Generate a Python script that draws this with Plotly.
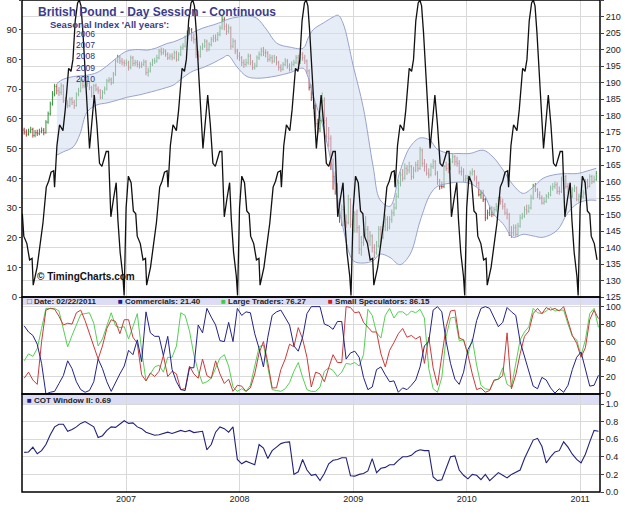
import pandas as pd
import plotly.graph_objects as go

# ---------------- price data (weekly, British Pound futures, cents) ----------------
price_start = "2006-02-07"
closes = [
    175.0, 174.3, 175.2, 175.8, 174.0, 174.8, 174.5, 175.2, 175.5, 174.8, 178.0, 180.5,
    183.5, 186.5, 188.8, 187.5, 187.0, 189.0, 184.5, 183.5, 183.0, 184.8, 184.0, 183.0,
    186.5, 187.5, 190.5, 189.0, 189.5, 189.8, 188.5, 186.0, 189.0, 188.0, 187.5, 185.5,
    187.0, 188.0, 190.5, 190.8, 190.0, 192.5, 196.5, 197.5, 196.5, 196.0, 195.8,
    196.0, 194.5, 197.5, 195.8, 196.0, 195.5, 195.0, 195.5, 196.2, 193.0, 193.5, 195.5,
    196.5, 196.5, 197.5, 199.5, 199.0, 199.5, 198.5, 197.5, 198.0, 197.5, 199.0, 197.0,
    198.5, 200.5, 201.0, 203.5, 205.0, 206.0, 203.5, 203.0, 198.5, 198.0, 200.5, 201.0,
    202.5, 200.0, 201.5, 203.0, 203.5, 203.0, 204.5, 206.5, 209.0, 207.0, 205.5, 206.5,
    201.0, 202.5, 199.5, 198.0,
    197.5, 196.0, 195.5, 196.0, 198.0, 196.0, 194.5, 195.0, 197.5, 198.5, 199.5, 199.0,
    199.0, 197.0, 197.5, 196.5, 197.5, 196.0, 194.5, 194.0, 195.5, 196.5, 195.0, 194.0,
    195.5, 196.0, 197.5, 196.0, 198.5, 197.5, 196.5, 193.5, 188.5, 185.5, 183.0, 177.5,
    176.0, 178.5, 184.5, 178.5, 173.5, 173.0, 165.0, 161.5, 158.5, 153.5, 149.0, 151.5,
    148.0, 147.5, 154.5, 147.0, 145.0,
    150.0, 146.0, 139.5, 141.5, 144.0, 145.5, 142.0, 143.5, 140.0, 138.5, 140.5, 145.5,
    143.0, 146.5, 148.5, 146.0, 148.5, 150.5, 152.0, 155.5, 159.5, 162.0, 161.0, 164.0,
    163.5, 164.5, 161.5, 163.5, 165.0, 164.0, 169.5, 165.5, 164.5, 162.5, 162.0, 164.5,
    166.0, 162.5, 160.0, 158.5, 158.5, 164.5, 164.0, 164.0, 166.0, 167.5, 166.0, 165.5,
    163.0, 163.0, 160.5, 161.0,
    160.5, 162.5, 163.0, 161.0, 159.5, 156.0, 156.5, 154.5, 149.0, 150.5, 152.0, 150.0,
    151.5, 152.5, 154.5, 154.0, 152.5, 150.5, 150.0, 144.5, 144.5, 146.0, 144.0, 146.5,
    149.0, 149.5, 151.5, 151.0, 152.0, 155.0, 158.5, 157.5, 156.0, 155.0, 153.5, 154.0,
    155.5, 156.0, 158.0, 158.5, 159.0, 157.0, 157.0, 160.5, 161.5, 158.5, 157.5, 155.5,
    157.5, 158.0, 154.5, 155.5,
    155.5, 156.5, 160.0, 158.5, 161.5, 160.0, 160.5, 162.5,
]
opens = [
    175.6, 175.0, 174.3, 175.2, 175.8, 174.0, 174.8, 174.5, 175.2, 175.5, 174.8, 178.0,
    180.5, 183.5, 186.5, 188.8, 187.5, 187.0, 189.0, 184.5, 183.5, 183.0, 184.8, 184.0,
    183.0, 186.5, 187.5, 190.5, 189.0, 189.5, 189.8, 188.5, 186.0, 189.0, 188.0, 187.5,
    185.5, 187.0, 188.0, 190.5, 190.8, 190.0, 192.5, 196.5, 197.5, 196.5, 196.0,
    195.8, 196.0, 194.5, 197.5, 195.8, 196.0, 195.5, 195.0, 195.5, 196.2, 193.0, 193.5,
    195.5, 196.5, 196.5, 197.5, 199.5, 199.0, 199.5, 198.5, 197.5, 198.0, 197.5, 199.0,
    197.0, 198.5, 200.5, 201.0, 203.5, 205.0, 206.0, 203.5, 203.0, 198.5, 198.0, 200.5,
    201.0, 202.5, 200.0, 201.5, 203.0, 203.5, 203.0, 204.5, 206.5, 209.0, 207.0, 205.5,
    206.5, 201.0, 202.5, 199.5,
    198.0, 197.5, 196.0, 195.5, 196.0, 198.0, 196.0, 194.5, 195.0, 197.5, 198.5, 199.5,
    199.0, 199.0, 197.0, 197.5, 196.5, 197.5, 196.0, 194.5, 194.0, 195.5, 196.5, 195.0,
    194.0, 195.5, 196.0, 197.5, 196.0, 198.5, 197.5, 196.5, 193.5, 188.5, 185.5, 183.0,
    177.5, 176.0, 178.5, 184.5, 178.5, 173.5, 173.0, 165.0, 161.5, 158.5, 153.5, 149.0,
    151.5, 148.0, 147.5, 154.5, 147.0,
    145.0, 150.0, 146.0, 139.5, 141.5, 144.0, 145.5, 142.0, 143.5, 140.0, 138.5, 140.5,
    145.5, 143.0, 146.5, 148.5, 146.0, 148.5, 150.5, 152.0, 155.5, 159.5, 162.0, 161.0,
    164.0, 163.5, 164.5, 161.5, 163.5, 165.0, 164.0, 169.5, 165.5, 164.5, 162.5, 162.0,
    164.5, 166.0, 162.5, 160.0, 158.5, 158.5, 164.5, 164.0, 164.0, 166.0, 167.5, 166.0,
    165.5, 163.0, 163.0, 160.5,
    161.0, 160.5, 162.5, 163.0, 161.0, 159.5, 156.0, 156.5, 154.5, 149.0, 150.5, 152.0,
    150.0, 151.5, 152.5, 154.5, 154.0, 152.5, 150.5, 150.0, 144.5, 144.5, 146.0, 144.0,
    146.5, 149.0, 149.5, 151.5, 151.0, 152.0, 155.0, 158.5, 157.5, 156.0, 155.0, 153.5,
    154.0, 155.5, 156.0, 158.0, 158.5, 159.0, 157.0, 157.0, 160.5, 161.5, 158.5, 157.5,
    155.5, 157.5, 158.0, 154.5,
    155.5, 155.5, 156.5, 160.0, 158.5, 161.5, 160.0, 160.5,
]
highs = [
    176.3, 175.8, 176.0, 176.6, 176.3, 175.6, 175.7, 176.0, 176.4, 176.2, 178.6, 181.2,
    184.2, 187.4, 189.6, 189.5, 188.6, 189.8, 189.4, 185.6, 184.6, 185.5, 185.6, 184.7,
    187.0, 188.4, 191.2, 191.0, 190.3, 190.6, 190.2, 189.0, 189.6, 189.7, 188.8, 188.0,
    187.7, 188.8, 191.1, 191.6, 191.5, 193.2, 197.1, 198.4, 198.2, 197.4, 196.9,
    197.0, 196.6, 198.2, 198.0, 196.9, 196.8, 196.4, 196.3, 197.0, 196.8, 194.5, 196.2,
    197.2, 197.5, 198.4, 200.2, 200.6, 200.4, 200.0, 199.2, 198.8, 198.9, 199.7, 199.6,
    199.2, 201.2, 201.9, 204.2, 205.8, 206.8, 206.5, 204.8, 203.6, 199.6, 201.2, 202.0,
    203.2, 203.0, 202.2, 203.8, 204.5, 204.6, 205.3, 207.3, 210.2, 209.8, 207.9, 207.6,
    207.0, 203.4, 203.0, 200.2,
    199.2, 198.0, 197.0, 197.2, 198.8, 198.6, 196.8, 196.0, 198.2, 199.4, 200.6, 200.8,
    200.0, 199.5, 198.6, 198.3, 198.4, 198.0, 196.6, 195.5, 196.2, 197.4, 197.1, 195.8,
    196.4, 196.9, 198.3, 198.4, 199.4, 199.2, 198.4, 197.0, 194.0, 189.4, 186.6, 183.8,
    179.0, 180.5, 187.0, 185.5, 179.5, 176.5, 174.0, 167.0, 163.0, 159.5, 155.0, 153.0,
    152.5, 150.0, 156.0, 155.0, 148.5,
    151.0, 151.5, 146.8, 143.5, 146.0, 149.5, 146.5, 145.0, 144.0, 141.0, 142.0, 146.5,
    146.5, 148.0, 150.0, 149.5, 149.5, 151.5, 153.5, 156.5, 160.5, 163.0, 163.8, 165.5,
    165.0, 166.0, 165.0, 164.5, 166.0, 166.5, 170.5, 170.0, 166.8, 165.5, 164.0, 165.5,
    166.8, 166.5, 163.2, 160.8, 160.0, 165.0, 166.0, 165.5, 167.0, 168.5, 168.0, 167.5,
    166.5, 164.5, 164.0, 162.0,
    162.0, 163.3, 164.0, 163.5, 161.8, 160.0, 157.5, 157.5, 155.0, 151.5, 152.8, 152.5,
    152.3, 153.5, 155.3, 155.5, 154.8, 153.5, 151.8, 150.5, 146.5, 147.0, 147.0, 147.5,
    150.0, 150.5, 152.5, 153.0, 153.0, 156.0, 159.3, 159.5, 158.0, 157.0, 155.8, 155.2,
    156.2, 156.8, 158.8, 159.5, 160.0, 159.8, 158.5, 161.5, 162.8, 162.0, 159.5, 158.2,
    158.3, 159.0, 158.5, 156.3,
    156.8, 157.5, 160.8, 160.8, 162.2, 162.0, 161.8, 163.2,
]
lows = [
    174.2, 173.6, 173.9, 174.6, 173.3, 173.4, 173.8, 174.0, 174.6, 174.0, 174.5, 177.5,
    180.0, 183.0, 185.8, 186.4, 185.9, 186.2, 183.8, 182.6, 182.2, 182.5, 183.2, 182.0,
    182.7, 185.8, 187.0, 188.2, 188.3, 188.7, 187.7, 185.4, 185.6, 187.3, 186.6, 184.9,
    185.0, 186.4, 187.6, 189.8, 189.2, 189.6, 192.0, 195.9, 195.6, 195.2, 194.9,
    195.0, 193.6, 194.0, 195.0, 195.0, 194.6, 194.2, 194.4, 195.0, 192.2, 191.8, 193.0,
    195.0, 195.6, 196.0, 197.0, 198.2, 198.4, 197.8, 196.8, 196.9, 196.7, 197.0, 196.3,
    196.5, 198.0, 199.9, 200.6, 202.9, 204.3, 202.5, 201.8, 197.4, 196.8, 197.5, 199.8,
    200.5, 199.3, 199.5, 200.9, 202.2, 202.3, 202.6, 204.0, 206.0, 205.8, 204.4, 204.8,
    200.0, 200.4, 198.6, 197.0,
    196.5, 195.0, 194.4, 194.8, 195.4, 195.2, 193.8, 193.9, 194.6, 196.8, 197.9, 198.0,
    197.6, 196.2, 196.3, 195.7, 196.0, 195.2, 193.6, 193.2, 193.6, 195.0, 194.2, 193.3,
    193.5, 194.9, 195.6, 195.3, 195.6, 196.6, 195.6, 192.6, 187.6, 184.4, 182.0, 176.4,
    174.5, 175.0, 178.0, 177.5, 172.0, 170.5, 163.5, 157.5, 156.0, 152.0, 147.5, 146.5,
    146.5, 146.0, 147.0, 146.0, 144.0,
    144.5, 144.5, 138.0, 137.5, 140.5, 143.0, 141.0, 140.5, 138.5, 136.8, 137.8, 140.0,
    141.5, 142.5, 145.0, 145.0, 145.5, 147.5, 149.5, 151.5, 155.0, 158.5, 160.0, 160.5,
    162.0, 162.5, 160.5, 160.8, 162.8, 163.0, 163.5, 164.5, 163.0, 161.8, 161.0, 161.5,
    163.8, 161.8, 159.0, 157.5, 157.8, 158.0, 163.2, 162.5, 163.5, 165.5, 164.8, 164.5,
    162.2, 161.8, 159.8, 159.8,
    159.5, 159.8, 161.8, 160.2, 158.5, 155.5, 154.8, 153.8, 148.0, 148.5, 149.5, 149.2,
    149.5, 150.8, 152.0, 153.0, 151.5, 149.8, 148.5, 143.5, 143.0, 143.5, 143.3, 143.5,
    146.0, 148.5, 149.0, 150.0, 150.5, 151.5, 154.5, 156.8, 155.0, 154.5, 153.0, 153.0,
    153.5, 154.8, 155.5, 157.2, 157.8, 156.2, 156.0, 156.5, 160.0, 157.8, 156.5, 154.8,
    155.0, 156.8, 154.0, 153.8,
    154.5, 154.8, 156.0, 157.8, 158.2, 159.2, 159.5, 160.2,
]
price_dates = pd.date_range(price_start, periods=len(closes), freq="7D")

# ---------------- bands around price ----------------
band_dates = [
    "2006-05-23", "2006-06-13", "2006-07-15", "2006-08-06", "2006-08-28", "2006-09-29",
    "2006-10-31", "2006-12-02", "2007-01-03", "2007-02-10", "2007-03-08", "2007-04-09",
    "2007-05-12", "2007-06-02", "2007-07-03", "2007-08-05", "2007-09-05", "2007-10-10",
    "2007-11-09", "2007-11-25", "2007-12-24", "2008-01-25", "2008-02-25", "2008-03-29",
    "2008-04-30", "2008-06-12", "2008-07-24", "2008-08-09", "2008-08-25", "2008-09-26",
    "2008-10-28", "2008-11-13", "2008-11-29", "2009-01-01", "2009-02-02", "2009-03-06",
    "2009-03-28", "2009-04-29", "2009-05-31", "2009-07-03", "2009-08-04", "2009-09-05",
    "2009-09-28", "2009-11-08", "2009-12-01", "2010-01-12", "2010-02-23", "2010-03-27",
    "2010-04-28", "2010-05-30", "2010-07-02", "2010-08-03", "2010-09-04", "2010-10-19",
    "2010-11-21", "2010-12-23", "2011-01-24", "2011-02-22",
]
band_upper = [
    189.7, 191.0, 191.8, 192.0, 192.2, 193.0, 195.0, 197.5, 199.5, 200.0, 199.8, 200.5,
    201.8, 202.3, 203.5, 205.2, 206.5, 207.5, 208.5, 209.2, 209.8, 210.2, 209.5, 205.9,
    201.9, 200.7, 200.4, 203.5, 206.0, 208.0, 209.8, 210.4, 208.0, 195.0, 182.5, 164.5,
    154.5, 152.5, 163.0, 170.5, 173.2, 172.5, 169.8, 168.5, 168.5, 168.5, 169.5, 167.4,
    163.5, 159.0, 156.4, 158.3, 161.0, 162.2, 162.4, 162.4, 163.2, 164.0,
]
band_lower = [
    168.0, 169.0, 170.5, 174.5, 181.0, 183.2, 183.8, 184.6, 185.5, 186.2, 186.8, 187.6,
    188.5, 189.2, 191.5, 193.5, 194.5, 196.0, 197.5, 198.2, 194.7, 191.8, 191.3, 191.5,
    192.0, 193.0, 194.3, 191.5, 186.0, 176.5, 163.0, 154.0, 146.0, 136.0, 135.3, 136.0,
    138.0, 137.0, 134.8, 138.0, 148.0, 156.0, 158.5, 159.5, 159.8, 159.4, 156.4, 150.3,
    147.2, 143.1, 144.0, 143.5, 143.1, 145.2, 150.3, 153.3, 154.3, 154.3,
]

# ---------------- seasonal index (same pattern every year) ----------------
season_years = [2006, 2007, 2008, 2009, 2010, 2011]
season_frac = [
    0.000, 0.020, 0.044, 0.064, 0.085, 0.098, 0.125, 0.149, 0.171, 0.181,
    0.215, 0.237, 0.267, 0.296, 0.317, 0.338, 0.361, 0.369, 0.390, 0.413,
    0.443, 0.463, 0.493, 0.514, 0.531, 0.551, 0.572, 0.587, 0.602, 0.619,
    0.639, 0.654, 0.677, 0.698, 0.719, 0.742, 0.765, 0.786, 0.807, 0.824,
    0.844, 0.865, 0.888, 0.912, 0.927, 0.947, 0.971, 0.982,
]
season_vals = [
    30, 40.7, 38.5, 29, 28, 20.5, 18, 12.5, 13, 4,
    10, 17, 25, 37, 39, 42, 42.5, 37, 51, 58,
    56, 63, 77, 76, 80, 93, 99, 100, 98, 89,
    75, 63, 50, 59, 68, 58, 45, 44, 46.5, 49,
    49, 27, 33, 38.5, 26, 15, 7, 0.5,
]
season_labels = ["2006", "2007", "2008", "2009", "2010"]

# ---------------- COT data (every two weeks) ----------------
cot_start = "2006-02-07"
commercials = [
    78, 71, 67, 57, 35, 0, 2, 3, 12, 21, 38, 29, 14, 5, 2, 4, 14, 40, 29, 14,
    3, 14, 23, 32, 50, 45, 62, 37, 94, 70, 66, 66, 44, 66, 28, 14, 5, 4, 30, 30,
    79, 70, 98, 88, 79, 61, 60, 82, 60, 98, 90, 94, 93, 69, 52, 31, 65, 90, 94, 96,
    88, 79, 55, 49, 65, 92,
    100, 100, 100, 80, 78, 74, 83, 83, 40, 47, 49, 42, 19, 5, 8, 28, 31, 22, 14, 15,
    2, 7, 5, 10, 16, 31, 55, 60, 96, 100, 94, 60, 35, 17, 11, 25, 51, 60, 84, 98,
    100, 98, 88, 77, 82, 99, 94, 90, 60, 42, 24, 9, 6, 19, 16, 7, 1, 6, 2, 10,
    28, 42, 48, 27, 9, 10, 21.4,
]
large_traders = [
    38, 46, 43, 52, 75, 98, 98, 98, 95, 75, 54, 67, 78, 91, 92, 93, 81, 55, 63, 79,
    93, 78, 76, 77, 63, 77, 92, 50, 15, 23, 31, 33, 25, 42, 42, 55, 93, 90, 72, 45,
    26, 12, 14, 18, 30, 41, 45, 32, 8, 3, 6, 3, 10, 31, 54, 56, 30, 5, 4, 3,
    6, 13, 26, 36, 19, 5,
    3, 3, 8, 26, 30, 27, 20, 25, 35, 34, 36, 32, 45, 97, 90, 70, 64, 90, 98, 87,
    94, 94, 90, 95, 93, 97, 87, 29, 6, 2, 19, 66, 87, 88, 61, 62, 45, 63, 33, 10,
    6, 5, 15, 17, 30, 11, 8, 34, 62, 71, 77, 98, 93, 92, 95, 99, 95, 96, 96, 80,
    66, 62, 44, 62, 92, 98, 76.27,
]
small_specs = [
    18, 25, 16, 11, 60, 96, 98, 97, 89, 79, 81, 80, 93, 96, 84, 69, 54, 40, 55, 75,
    85, 83, 69, 85, 85, 65, 58, 22, 15, 24, 20, 26, 44, 20, 26, 23, 5, 6, 32, 23,
    18, 40, 21, 18, 38, 23, 12, 17, 3, 10, 9, 3, 7, 23, 47, 60, 36, 7, 7, 28,
    40, 57, 54, 76, 63, 42,
    8, 25, 23, 14, 30, 45, 36, 36, 100, 99, 93, 94, 82, 76, 71, 71, 46, 31, 50, 59,
    69, 75, 65, 67, 63, 66, 35, 65, 30, 10, 42, 77, 95, 96, 64, 62, 45, 23, 5, 7,
    2, 4, 16, 17, 21, 70, 6, 22, 46, 66, 72, 92, 98, 92, 99, 96, 98, 95, 100, 84,
    67, 58, 42, 53, 85, 96, 86.15,
]
cot_window = [
    0.45, 0.455, 0.51, 0.435, 0.47, 0.54, 0.65, 0.74, 0.77, 0.77,
    0.69, 0.71, 0.74, 0.78, 0.80, 0.77, 0.74, 0.62, 0.64, 0.70,
    0.74, 0.735, 0.775, 0.81, 0.78, 0.785, 0.74, 0.72, 0.68, 0.665,
    0.645, 0.65, 0.665, 0.68, 0.665, 0.68, 0.70, 0.685, 0.70, 0.675,
    0.68, 0.69, 0.48, 0.54, 0.68, 0.74, 0.72, 0.68, 0.74, 0.37,
    0.32, 0.35, 0.33, 0.31, 0.54, 0.50, 0.38, 0.47, 0.51, 0.55,
    0.565, 0.57, 0.20, 0.23, 0.37, 0.25, 0.19, 0.20,
    0.13, 0.21, 0.32, 0.36, 0.37, 0.39, 0.39, 0.185, 0.18, 0.20,
    0.21, 0.24, 0.38, 0.22, 0.27, 0.28, 0.31, 0.31, 0.36, 0.40,
    0.40, 0.417, 0.46, 0.48, 0.47, 0.47, 0.17, 0.13, 0.14, 0.28,
    0.40, 0.41, 0.25, 0.19, 0.15, 0.20, 0.19, 0.14, 0.20, 0.13,
    0.17, 0.22, 0.19, 0.16, 0.20, 0.225, 0.25, 0.38, 0.48, 0.59,
    0.61, 0.52, 0.33, 0.40, 0.455, 0.47, 0.57, 0.51, 0.43, 0.37,
    0.33, 0.43, 0.57, 0.70, 0.69,
]
cot_dates = pd.date_range(cot_start, periods=len(commercials), freq="14D")

legend_date = "02/22/2011"

# ---------------- figure ----------------
X_RANGE = ["2006-01-31", "2011-03-06"]
MAIN = [0.3963, 1.0]
MID = [0.1992, 0.3963]
BOT = [0.0, 0.1992]
FONT = "Liberation Sans, Arial, sans-serif"
GRID = "#d9d9d9"

# seasonal line: same yearly pattern repeated
s_x, s_y = [], []
lo_d, hi_d = pd.Timestamp("2006-02-01"), pd.Timestamp("2011-02-25")
for yr in season_years:
    base = pd.Timestamp(year=yr, month=1, day=1)
    for f, v in zip(season_frac, season_vals):
        d = base + pd.Timedelta(days=f * 365.25)
        if lo_d <= d <= hi_d:
            s_x.append(d)
            s_y.append(v)

fig = go.Figure()

fig.add_trace(go.Scatter(x=band_dates, y=band_lower, mode="lines", line=dict(color="#98a3cc", width=1, shape="spline"),
                         xaxis="x", yaxis="y", hoverinfo="skip", showlegend=False))
fig.add_trace(go.Scatter(x=band_dates, y=band_upper, mode="lines", line=dict(color="#98a3cc", width=1, shape="spline"),
                         fill="tonexty", fillcolor="rgba(212,223,239,0.55)",
                         xaxis="x", yaxis="y", hoverinfo="skip", showlegend=False))
fig.add_trace(go.Ohlc(x=price_dates, open=opens, high=highs, low=lows, close=closes,
                      increasing=dict(line=dict(color="#34923a", width=1)),
                      decreasing=dict(line=dict(color="#b23c3c", width=1)),
                      tickwidth=0.35, xaxis="x", yaxis="y", showlegend=False))
fig.add_trace(go.Scatter(x=s_x, y=s_y, mode="lines", line=dict(color="#111111", width=1.3),
                         xaxis="x", yaxis="y2", showlegend=False))

fig.add_trace(go.Scatter(x=cot_dates, y=large_traders, mode="lines", line=dict(color="#55d055", width=1),
                         xaxis="x2", yaxis="y3", showlegend=False))
fig.add_trace(go.Scatter(x=cot_dates, y=small_specs, mode="lines", line=dict(color="#cc3a3a", width=1),
                         xaxis="x2", yaxis="y3", showlegend=False))
fig.add_trace(go.Scatter(x=cot_dates, y=commercials, mode="lines", line=dict(color="#22228a", width=1),
                         xaxis="x2", yaxis="y3", showlegend=False))

fig.add_trace(go.Scatter(x=cot_dates, y=cot_window, mode="lines", line=dict(color="#22227a", width=1.1),
                         xaxis="x3", yaxis="y4", showlegend=False))

xcommon = dict(range=X_RANGE, type="date", showgrid=True, gridcolor=GRID, gridwidth=1,
               dtick="M12", tick0="2007-01-01", zeroline=False, showline=False)
tickfont = dict(family=FONT, size=9, color="#222222")

fig.update_layout(
    width=625, height=514,
    margin=dict(l=22, r=25, t=0, b=22),
    paper_bgcolor="white", plot_bgcolor="white",
    showlegend=False,
    xaxis=dict(**xcommon, anchor="y", domain=[0, 1], showticklabels=False,
               rangeslider=dict(visible=False)),
    xaxis2=dict(**xcommon, anchor="y3", domain=[0, 1], showticklabels=False, matches="x"),
    xaxis3=dict(**xcommon, anchor="y4", domain=[0, 1], showticklabels=True, matches="x",
                tickformat="%Y", tickfont=tickfont, ticks=""),
    yaxis=dict(domain=MAIN, range=[125, 215], side="right", tickvals=list(range(125, 216, 5)),
               showgrid=True, gridcolor=GRID, zeroline=False, ticks="outside", ticklen=3,
               tickcolor="#444", tickfont=tickfont, anchor="x"),
    yaxis2=dict(domain=MAIN, range=[0, 100], side="left", overlaying="y", tickvals=list(range(0, 101, 10)),
                showgrid=False, zeroline=False, ticks="outside", ticklen=2, tickcolor="#444",
                tickfont=dict(family=FONT, size=9.5, color="#222222"), anchor="x"),
    yaxis3=dict(domain=MID, range=[0, 111], side="right", tickvals=[0, 20, 40, 60, 80, 100],
                showgrid=True, gridcolor=GRID, zeroline=False, ticks="outside", ticklen=3,
                tickcolor="#444", tickfont=tickfont, anchor="x2"),
    yaxis4=dict(domain=BOT, range=[0, 1.114], side="right", tickvals=[0, 0.2, 0.4, 0.6, 0.8, 1.0],
                tickformat=".1f", showgrid=True, gridcolor=GRID, zeroline=False, ticks="outside",
                ticklen=3, tickcolor="#444", tickfont=tickfont, anchor="x3"),
)

shapes = [
    dict(type="rect", xref="x2 domain", yref="y3", x0=0, x1=1, y0=102, y1=111,
         fillcolor="#dcddf5", line=dict(width=0), layer="below"),
    dict(type="rect", xref="x3 domain", yref="y4", x0=0, x1=1, y0=1.0, y1=1.114,
         fillcolor="#dcddf5", line=dict(width=0), layer="below"),
]
for dom in (MAIN, MID, BOT):
    shapes.append(dict(type="rect", xref="paper", yref="paper", x0=0, x1=1, y0=dom[0], y1=dom[1],
                       line=dict(color="#000000", width=1.5), fillcolor="rgba(0,0,0,0)", layer="above"))
fig.update_layout(shapes=shapes)

H = 492.0
W = 578.0


def px(xp):
    return (xp - 22) / W


def py(yp):
    return (H - yp) / H


ann = []
ann.append(dict(text="British Pound - Day Session - Continuous", x=px(36), y=py(12), xref="paper", yref="paper",
                xanchor="left", yanchor="middle", showarrow=False,
                font=dict(family=FONT, size=12, color="#3c3c8c", weight="bold")))
ann.append(dict(text="Seasonal Index 'All years':", x=px(48), y=py(24), xref="paper", yref="paper",
                xanchor="left", yanchor="middle", showarrow=False,
                font=dict(family=FONT, size=9.5, color="#3c3c8c", weight="bold")))
for i, lab in enumerate(season_labels):
    ann.append(dict(text=lab, x=px(74), y=py(34 + 11.2 * i), xref="paper", yref="paper",
                    xanchor="left", yanchor="middle", showarrow=False,
                    font=dict(family=FONT, size=8.5, color="#2c2c88")))
ann.append(dict(text="© TimingCharts.com", x=px(35), y=py(276), xref="paper", yref="paper",
                xanchor="left", yanchor="middle", showarrow=False,
                font=dict(family=FONT, size=10, color="#111111", weight="bold")))

leg_font = dict(family=FONT, size=8, color="#222222", weight="bold")
items = [
    (25, "<span style='color:#222'>□</span> Date: " + legend_date),
    (116, "<span style='color:#1c1c8a'>■</span> Commercials: %.2f" % commercials[-1]),
    (219, "<span style='color:#3ccc3c'>■</span> Large Traders: %.2f" % large_traders[-1]),
    (326, "<span style='color:#cc2222'>■</span> Small Speculators: %.2f" % small_specs[-1]),
]
for xp, t in items:
    ann.append(dict(text=t, x=px(xp), y=py(301.5), xref="paper", yref="paper", xanchor="left",
                    yanchor="middle", showarrow=False, font=leg_font))
ann.append(dict(text="<span style='color:#1c1c8a'>■</span> COT Window II: %.2f" % cot_window[-1],
                x=px(25), y=py(400), xref="paper", yref="paper", xanchor="left", yanchor="middle",
                showarrow=False, font=leg_font))
fig.update_layout(annotations=ann)

fig.write_html("out.html")
